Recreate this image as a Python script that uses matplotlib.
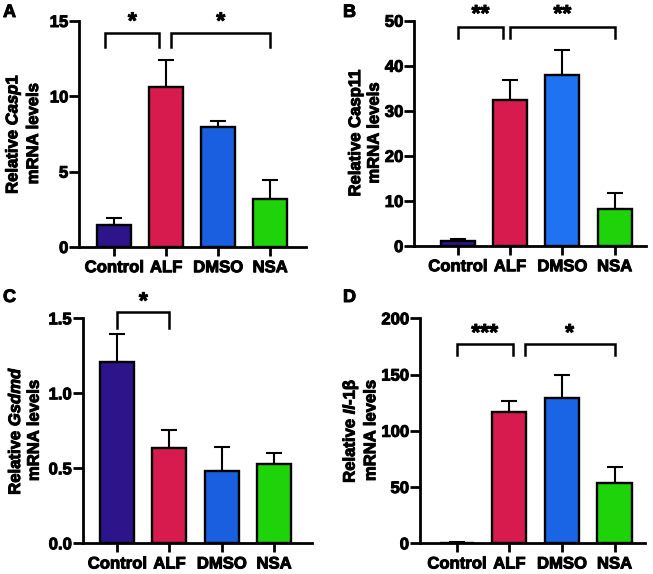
import numpy as np
import matplotlib
matplotlib.use("Agg")
import matplotlib.pyplot as plt
import matplotlib.patheffects as pe

plt.rcParams['font.family'] = ['Liberation Sans', 'DejaVu Sans']
plt.rcParams['font.weight'] = 'bold'
plt.rcParams['mathtext.fontset'] = 'custom'
plt.rcParams['mathtext.it'] = 'Liberation Sans:italic:bold'
plt.rcParams['mathtext.rm'] = 'Liberation Sans:bold'
plt.rcParams['mathtext.bf'] = 'Liberation Sans:bold'

groups = ["Control", "ALF", "DMSO", "NSA"]

casp1_mean = [1.45, 10.6, 7.96, 3.17]
casp1_sem = [0.47, 1.8, 0.42, 1.28]
casp11_mean = [1.18, 32.4, 38.0, 8.3]
casp11_sem = [0.45, 4.4, 5.5, 3.5]
gsdmd_mean = [1.207, 0.636, 0.484, 0.527]
gsdmd_sem = [0.186, 0.12, 0.16, 0.073]
il1b_mean = [0.6, 116.7, 129.2, 53.3]
il1b_sem = [0.3, 9.8, 20.4, 14.3]

W, H = 653, 574
fig = plt.figure(figsize=(W / 100, H / 100), dpi=100)
heavy = [pe.withStroke(linewidth=0.7, foreground="black")]


def px_axes(left, right, bottom, top):
    return fig.add_axes([left / W, (H - bottom) / H, (right - left) / W, (bottom - top) / H])


panels = [
    dict(letter="A", box=(79.3, 306, 247, 21), xlim=(-0.67, 3.69), ylim=(0, 15), ticks=[0, 5, 10, 15],
         fmt="{:.0f}", mean=casp1_mean, sem=casp1_sem,
         label="Relative $\\mathit{Casp1}$\nmRNA levels", labx=41, letterpos=(3, 4),
         colors=["#2E148A", "#D81B4E", "#1A5FE0", "#1FD30A"],
         brackets=[(-0.17, 0.87, 14.2, 13.3, "*", 15.4), (1.1, 3.0, 14.2, 13.3, "*", 15.4)]),
    dict(letter="B", box=(414.3, 646, 246, 20.7), xlim=(-0.83, 3.6), ylim=(0, 50), ticks=[0, 10, 20, 30, 40, 50],
         fmt="{:.0f}", mean=casp11_mean, sem=casp11_sem,
         label="Relative Casp11\nmRNA levels", labx=381.7, letterpos=(343, 4),
         colors=["#2E148A", "#D81B4E", "#1F72F2", "#1FD30A"],
         brackets=[(0.0, 0.87, 48.7, 46.2, "**", 52.9), (1.0, 3.0, 48.7, 46.2, "**", 52.9)]),
    dict(letter="C", box=(82.7, 311.7, 543.3, 318.3), xlim=(-0.66, 3.72), ylim=(0, 1.5), ticks=[0, 0.5, 1.0, 1.5],
         fmt="{:.1f}", mean=gsdmd_mean, sem=gsdmd_sem,
         label="Relative $\\mathit{Gsdmd}$\nmRNA levels", labx=41.7, letterpos=(3, 289),
         colors=["#2E148A", "#D81B4E", "#1A5FE0", "#1FD30A"],
         brackets=[(0.0, 1.0, 1.54, 1.438, "*", 1.656)]),
    dict(letter="D", box=(420, 645, 543.3, 318.3), xlim=(-0.70, 3.58), ylim=(0, 200), ticks=[0, 50, 100, 150, 200],
         fmt="{:.0f}", mean=il1b_mean, sem=il1b_sem,
         label="Relative $\\mathit{Il}$-$\\mathit{1}$β\nmRNA levels", labx=378.3, letterpos=(343, 289),
         colors=["#2E148A", "#D81B4E", "#1A64E6", "#1FD30A"],
         brackets=[(0.0, 1.06, 176.9, 167.4, "***", 192.6), (1.29, 3.0, 176.9, 167.4, "*", 192.6)]),
]

for p in panels:
    l, r, b, t = p["box"]
    ax = px_axes(l, r, b, t)
    x = np.arange(len(groups))
    ax.bar(x, p["mean"], width=0.65, color=p["colors"], edgecolor="black", linewidth=1.7, zorder=3)
    ax.errorbar(x, p["mean"], yerr=[np.zeros(len(groups)), p["sem"]], fmt="none", ecolor="black",
                elinewidth=1.5, capsize=6, capthick=1.5, zorder=2)
    ax.set_xlim(*p["xlim"])
    ax.set_ylim(*p["ylim"])
    ax.set_yticks(p["ticks"])
    ax.set_yticklabels([p["fmt"].format(v) for v in p["ticks"]])
    ax.set_xticks(x)
    ax.set_xticklabels(groups)
    for s in ["top", "right"]:
        ax.spines[s].set_visible(False)
    for s in ["left", "bottom"]:
        ax.spines[s].set_linewidth(2.0)
    ax.tick_params(axis="y", length=7, width=2.0, pad=1, labelsize=12)
    ax.tick_params(axis="x", length=6.5, width=2.0, pad=3, labelsize=12)
    for lab in ax.get_xticklabels() + ax.get_yticklabels():
        lab.set_fontweight("bold")
        lab.set_path_effects(heavy)
    yl = ax.set_ylabel(p["label"], fontsize=12, fontweight="bold", linespacing=1.3)
    yl.set_path_effects(heavy)
    ax.yaxis.set_label_coords((p["labx"] - l) / (r - l), 0.5)
    for (x0, x1, yb, ylg, star, ys) in p["brackets"]:
        ax.plot([x0, x0, x1, x1], [ylg, yb, yb, ylg], color="black", lw=1.8, clip_on=False,
                solid_joinstyle="miter", zorder=4)
        ax.annotate(star, xy=((x0 + x1) / 2, ys), xytext=(0, -9.5), textcoords="offset points",
                    ha="center", va="baseline", fontsize=16.5, fontweight="bold", annotation_clip=False,
                    path_effects=heavy)
    lx, ly = p["letterpos"]
    fig.text(lx / W, 1 - ly / H, p["letter"], ha="left", va="top", fontsize=13, fontweight="bold",
             path_effects=heavy)

fig.savefig("out.png", dpi=100)
